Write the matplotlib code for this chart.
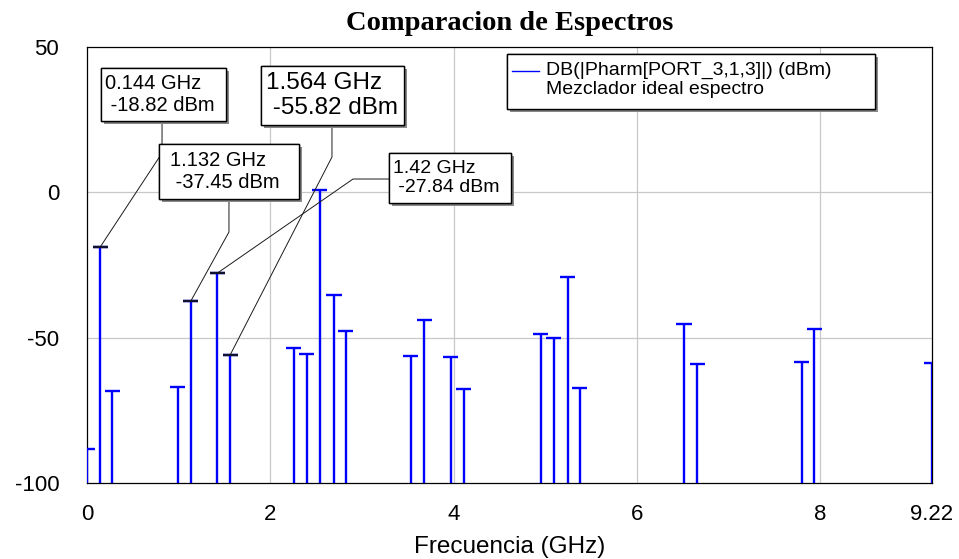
import matplotlib
matplotlib.use("Agg")
import matplotlib.pyplot as plt
import matplotlib.patheffects as pe
from matplotlib.patches import Rectangle
from matplotlib.lines import Line2D

plt.rcParams["font.family"] = ["Liberation Sans", "DejaVu Sans"]
plt.rcParams["axes.unicode_minus"] = False

# Mixer output tones (GHz) and their levels (dBm)
freq_ghz = [0.0, 0.144, 0.276, 0.990, 1.132, 1.420, 1.564, 2.255, 2.397, 2.542,
            2.695, 2.823, 3.535, 3.680, 3.968, 4.113, 4.950, 5.095, 5.245, 5.379,
            6.514, 6.659, 7.798, 7.936, 9.22]
power_dbm = [-88.4, -18.82, -68.5, -66.9, -37.45, -27.84, -55.82, -53.7, -55.7, 0.8,
             -35.2, -47.7, -56.2, -43.9, -56.5, -67.7, -48.7, -50.0, -29.0, -67.3,
             -45.3, -59.1, -58.3, -47.1, -58.8]

# tones with a marker readout
marker_freqs = [0.144, 1.564, 1.132, 1.42]

x_ticks = [0, 2, 4, 6, 8, 9.22]
x_tick_labels = ["0", "2", "4", "6", "8", "9.22"]
y_ticks = [-100, -50, 0, 50]
x_grid = [2, 4, 6, 8]
y_grid = [-50, 0]

series_label = "DB(|Pharm[PORT_3,1,3]|) (dBm)"
graph_name = "Mezclador ideal espectro"

BLUE = "#0000ff"
SHADOW = [pe.withSimplePatchShadow(offset=(2.2, -2.2), shadow_rgbFace="#8a8a8a", alpha=1.0),
          pe.Normal()]

# readout boxes in axes fraction: box (x0, y0, x1, y1), text x, leader anchor, elbow, font size
callouts = {
    0.144: dict(box=(0.0166, 0.8303, 0.1645, 0.9518), tx=0.0213,
                anchor=(0.0888, 0.8303), elbow=(0.0888, 0.7569), size=14.5),
    1.564: dict(box=(0.2059, 0.8211, 0.3751, 0.9564), tx=0.2118,
                anchor=(0.2899, 0.8211), elbow=(0.2899, 0.7477), size=17.5),
    1.132: dict(box=(0.0852, 0.6514, 0.2509, 0.7775), tx=0.0982,
                anchor=(0.1680, 0.6514), elbow=(0.1680, 0.5757), size=14.5),
    1.42: dict(box=(0.3574, 0.6422, 0.5018, 0.7569), tx=0.3621,
               anchor=(0.3574, 0.6972), elbow=(0.3148, 0.6972), size=14),
}


def draw_callout(ax, f, p, spec):
    x0, y0, x1, y1 = spec["box"]
    end = ax.transLimits.transform((f, p))
    xs = [spec["anchor"][0], spec["elbow"][0], end[0]]
    ys = [spec["anchor"][1], spec["elbow"][1], end[1]]
    ax.plot(xs, ys, color="#1a1a1a", lw=0.7, transform=ax.transAxes, zorder=5,
            clip_on=False)
    rect = Rectangle((x0, y0), x1 - x0, y1 - y0, transform=ax.transAxes,
                     facecolor="white", edgecolor="black", lw=1.0, zorder=6,
                     clip_on=False)
    rect.set_path_effects(SHADOW)
    ax.add_patch(rect)
    ax.text(spec["tx"], (y0 + y1) / 2, f"{f:g} GHz\n {p:.2f} dBm",
            transform=ax.transAxes, ha="left", va="center", fontsize=spec["size"],
            linespacing=1.2, zorder=7)


fig = plt.figure(figsize=(9.59, 5.59), dpi=100)
ax = fig.add_axes([87 / 959, 1 - 483 / 559, 845 / 959, 436 / 559])
ax.set_xlim(0, 9.22)
ax.set_ylim(-100, 50)

for g in x_grid:
    ax.axvline(g, color="#c8c8c8", lw=0.9, zorder=1)
for g in y_grid:
    ax.axhline(g, color="#c8c8c8", lw=0.9, zorder=1)

ax.vlines(freq_ghz, -100, power_dbm, color=BLUE, lw=1.7, zorder=3)
ax.hlines(power_dbm, [f - 0.082 for f in freq_ghz], [f + 0.082 for f in freq_ghz],
          color=BLUE, lw=1.7, zorder=3)

for f in marker_freqs:
    p = power_dbm[freq_ghz.index(f)]
    ax.hlines(p, f - 0.082, f + 0.082, color="#101030", lw=1.7, zorder=4)

for f in marker_freqs:
    p = power_dbm[freq_ghz.index(f)]
    draw_callout(ax, f, p, callouts[f])

# legend panel
lx0, ly0, lx1, ly1 = 0.497, 0.8578, 0.9325, 0.984
leg = Rectangle((lx0, ly0), lx1 - lx0, ly1 - ly0, transform=ax.transAxes,
                facecolor="white", edgecolor="black", lw=1.0, zorder=6)
leg.set_path_effects(SHADOW)
ax.add_patch(leg)
ax.add_line(Line2D([0.5030, 0.5349], [0.9456, 0.9456], color=BLUE, lw=1.0,
                   transform=ax.transAxes, zorder=7))
ax.text(0.5432, 0.9465, series_label, transform=ax.transAxes, ha="left",
        va="center", fontsize=14, zorder=7)
ax.text(0.5432, 0.9020, graph_name, transform=ax.transAxes, ha="left",
        va="center", fontsize=14, zorder=7)

ax.set_xticks(x_ticks, x_tick_labels)
ax.set_yticks(y_ticks)
ax.tick_params(axis="x", length=0, pad=15, labelsize=16)
ax.tick_params(axis="y", length=0, pad=20, labelsize=16)
for s in ax.spines.values():
    s.set_color("black")
    s.set_linewidth(0.9)

ax.set_xlabel("Frecuencia (GHz)", fontsize=17.5)
ax.xaxis.label.set_va("center")
ax.xaxis.set_label_coords(0.5, -0.146)

ax.text(0.5, 1.0528, "Comparacion de Espectros", transform=ax.transAxes,
        ha="center", va="center", fontsize=20.5, fontweight="bold",
        family=["Liberation Serif", "DejaVu Serif"])

fig.savefig("out.png", dpi=100, facecolor="white")
